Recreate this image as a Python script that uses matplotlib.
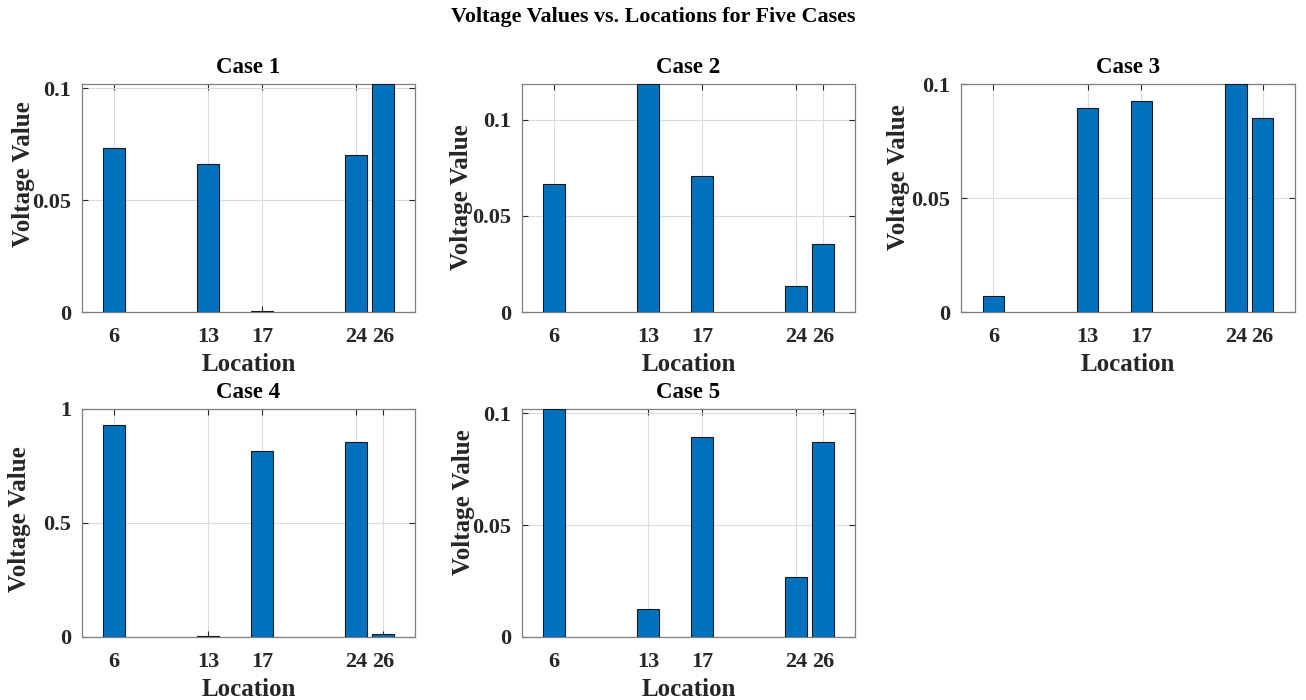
import matplotlib
matplotlib.use("Agg")
import matplotlib.pyplot as plt
from matplotlib.ticker import FuncFormatter

plt.rcParams['font.family'] = ['Liberation Serif', 'DejaVu Serif']
plt.rcParams['font.weight'] = 'bold'

locations = [6, 13, 17, 24, 26]
case_titles = ["Case 1", "Case 2", "Case 3", "Case 4", "Case 5"]
case1 = [0.0732, 0.0662, 0.0003, 0.0701, 0.1018]
case2 = [0.0665, 0.1185, 0.0705, 0.0133, 0.0353]
case3 = [0.0070, 0.0896, 0.0925, 0.1000, 0.0849]
case4 = [0.930, 0.006, 0.814, 0.855, 0.011]
case5 = [0.1018, 0.0123, 0.0895, 0.0269, 0.0870]
ylim_tops = [0.1018, 0.1185, 0.1, 1.0, 0.1018]
yticks_small = [0, 0.05, 0.1]
yticks_big = [0, 0.5, 1]

cases = [case1, case2, case3, case4, case5]

W, H = 1306, 700
fig = plt.figure(figsize=(W / 100, H / 100), dpi=100)

# axes rectangles in pixels: (left, top, right, bottom)
rects = [
    (82, 84, 415, 312),
    (522, 84, 855, 312),
    (961, 84, 1295, 312),
    (82, 409, 415, 637),
    (522, 409, 855, 637),
]
# y-label anchor positions in axes fractions (layout only)
ylabel_x = [-0.141, -0.148, -0.152, -0.152, -0.141]
ylabel_y = [0.605, 0.504, 0.592, 0.518, 0.592]

bar_color = '#0072BD'
axis_color = '#262626'
tick_fs = 16
label_fs = 18
title_fs = 16.5

for i, (vals, title, top, r) in enumerate(zip(cases, case_titles, ylim_tops, rects)):
    l, t, rr, b = r
    ax = fig.add_axes([l / W, 1 - b / H, (rr - l) / W, (b - t) / H])
    ax.bar(locations, vals, width=1.6, color=bar_color, edgecolor='#1a1a1a',
           linewidth=0.8, zorder=3)
    ax.set_xlim(3.6, 28.4)
    ax.set_ylim(0, top)
    ax.set_xticks(locations)
    ax.set_yticks(yticks_big if i == 3 else yticks_small)
    ax.yaxis.set_major_formatter(FuncFormatter(lambda v, p: f"{v:g}"))
    ax.grid(True, color='#dcdcdc', linewidth=0.8, zorder=0)
    ax.tick_params(direction='in', top=True, right=True, length=4,
                   color=axis_color, labelsize=tick_fs)
    ax.tick_params(axis='x', pad=11)
    ax.tick_params(axis='y', pad=8)
    for s in ax.spines.values():
        s.set_color('#7f7f7f')
        s.set_linewidth(0.9)
    for lab in ax.get_xticklabels() + ax.get_yticklabels():
        lab.set_fontweight('bold')
        lab.set_color(axis_color)
    ax.set_title(title, fontsize=title_fs, fontweight='bold', color='black', pad=8)
    ax.set_xlabel('Location', fontsize=label_fs, fontweight='bold', color=axis_color, labelpad=4)
    ax.set_ylabel('Voltage Value', fontsize=label_fs, fontweight='bold', color=axis_color)
    ax.yaxis.set_label_coords(ylabel_x[i], ylabel_y[i])

fig.suptitle('Voltage Values vs. Locations for Five Cases', y=1 - 17 / H,
             va='center', fontsize=15.8, fontweight='bold')

fig.savefig('out.png', dpi=100)
